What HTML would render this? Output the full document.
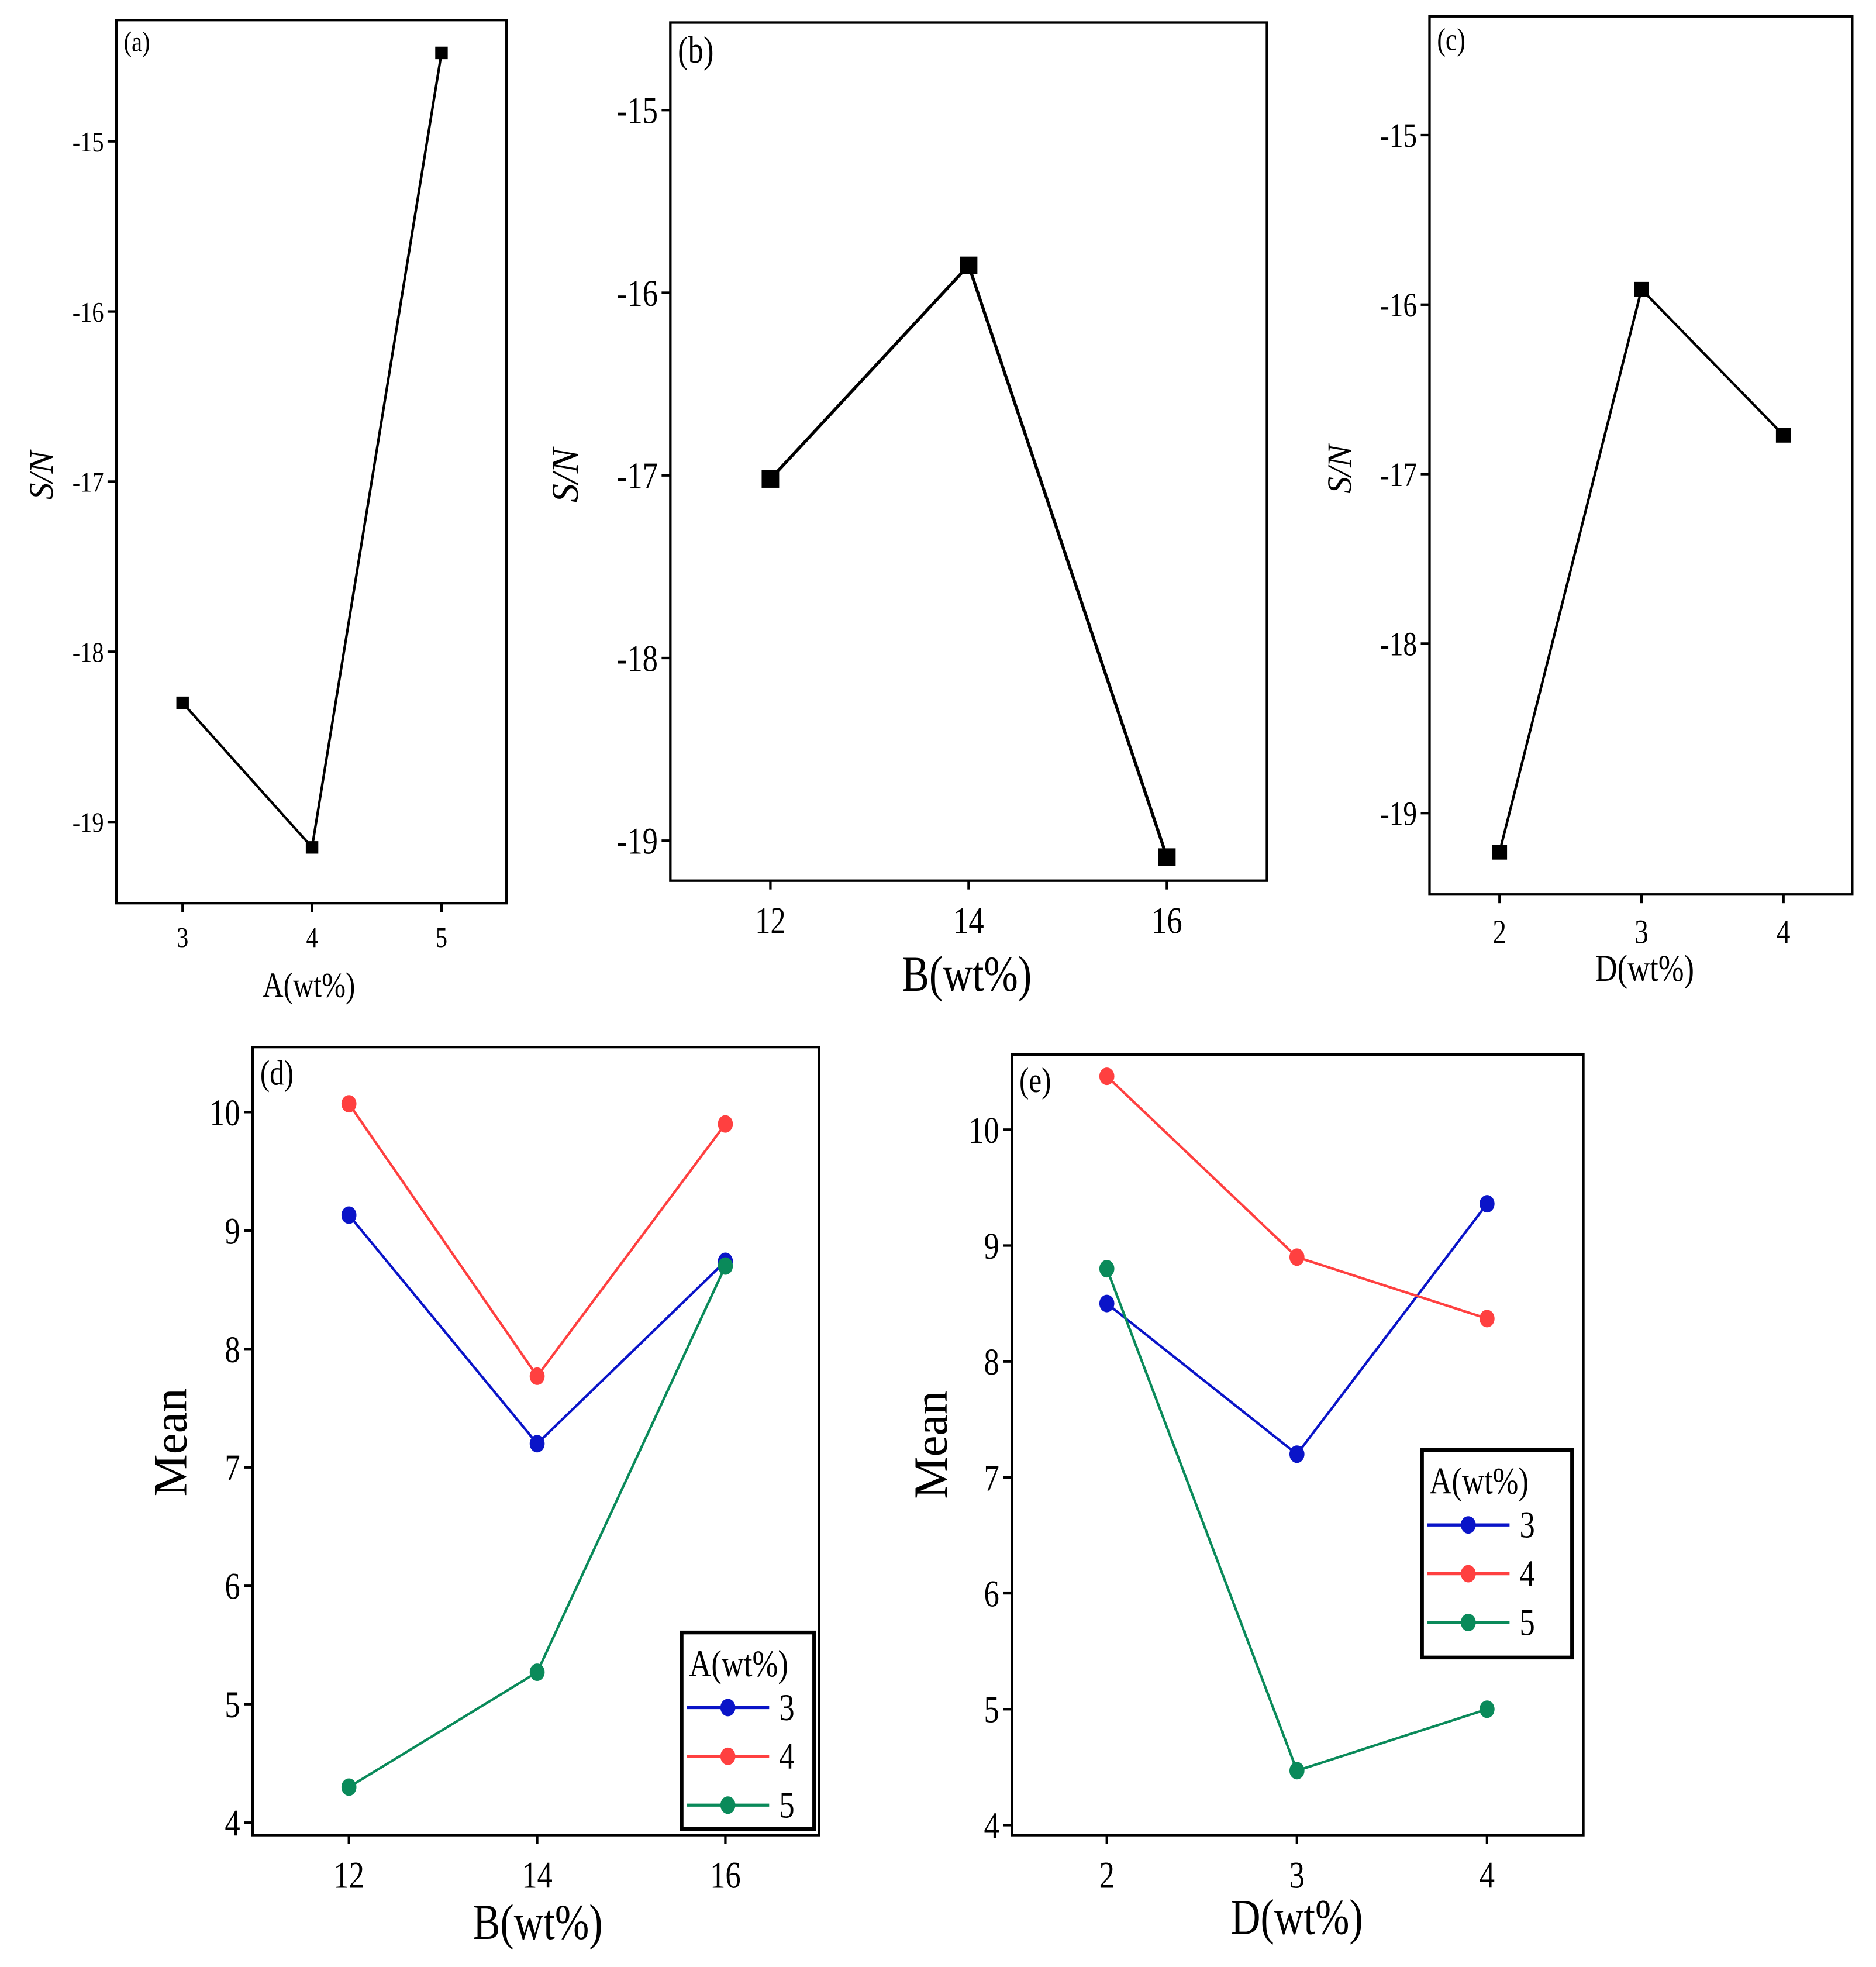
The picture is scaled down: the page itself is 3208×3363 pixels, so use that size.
<!DOCTYPE html>
<html><head><meta charset="utf-8"><style>
html,body{margin:0;padding:0;background:#fff}
svg{display:block}
text{font-family:"Liberation Serif",serif;fill:#000}
</style></head><body>
<svg id="fig" width="3208" height="3363" viewBox="0 0 1500 1572.4" preserveAspectRatio="none" xmlns="http://www.w3.org/2000/svg"></svg>
<script>
// Panel (a)
const aCats=[3,4,5];
const aVals=[-18.3,-19.15,-14.48];
const aYTicks=[-15,-16,-17,-18,-19];
// Panel (b)
const bCats=[12,14,16];
const bVals=[-17.02,-15.85,-19.09];
const bYTicks=[-15,-16,-17,-18,-19];
// Panel (c)
const cCats=[2,3,4];
const cVals=[-19.23,-15.91,-16.77];
const cYTicks=[-15,-16,-17,-18,-19];
// Panel (d)
const dCats=[12,14,16];
const dA3=[9.13,7.2,8.74];
const dA4=[10.07,7.77,9.9];
const dA5=[4.3,5.27,8.7];
const dYTicks=[4,5,6,7,8,9,10];
// Panel (e)
const eCats=[2,3,4];
const eA3=[8.5,7.2,9.36];
const eA4=[10.46,8.9,8.37];
const eA5=[8.8,4.47,5.0];
const eYTicks=[4,5,6,7,8,9,10];
const legendLabels=['3','4','5'];
const colors=['#0a14c8','#ff4040','#0a8a5a'];

const NS='http://www.w3.org/2000/svg';
const svg=document.getElementById('fig');
const SX=0.82;
function sq(x){return `translate(${x*(1-SX)},0) scale(${SX},1)`;}
function mk(tag,attrs,parent,text){
  const e=document.createElementNS(NS,tag);
  for(const k in attrs)e.setAttribute(k,attrs[k]);
  if(text!==undefined)e.textContent=text;
  (parent||svg).appendChild(e);return e;
}
function panel(cfg){
  const g=mk('g',{});
  
  
  const f=cfg.frame;
  const xs=v=>cfg.x0+(v-cfg.c0)*(cfg.x1-cfg.x0)/(cfg.c1-cfg.c0);
  const ys=v=>cfg.y0+(v-cfg.v0)*(cfg.y1-cfg.y0)/(cfg.v1-cfg.v0);
  const fr=mk('rect',{x:f[0],y:f[1],width:f[2]-f[0],height:f[3]-f[1],fill:'none',stroke:'#000','stroke-width':2},g);
  
  
  cfg.yticks.forEach(t=>{
    const y=ys(t);
    mk('line',{x1:f[0]-7,x2:f[0],y1:y,y2:y,stroke:'#000','stroke-width':2},g);
    const tx=mk('text',{x:f[0]-10,y:y+cfg.tf*0.35,'font-size':cfg.tf,'text-anchor':'end',transform:sq(f[0]-10)},g,String(t));
    
    
  });
  cfg.cats.forEach(c=>{
    const x=xs(c);
    mk('line',{x1:x,x2:x,y1:f[3],y2:f[3]+7,stroke:'#000','stroke-width':2},g);
    const tx=mk('text',{x:x,y:f[3]+cfg.tf+12,'font-size':cfg.tf,'text-anchor':'middle',transform:sq(x)},g,String(c));
    
    
  });
  const xl=mk('text',{x:cfg.xl[0],y:cfg.xl[1],'font-size':cfg.xf,'text-anchor':'middle',transform:sq(cfg.xl[0])},g,cfg.xlabel);
  
  
  const yl=mk('text',{x:0,y:0,'font-size':cfg.yf,'text-anchor':'middle','font-style':cfg.yital?'italic':'normal',transform:`translate(${cfg.yl[0]},${cfg.yl[1]}) rotate(-90)`},g,cfg.ylabel);
  
  
  const pl=mk('text',{x:f[0]+6,y:f[1]+cfg.pf+2,'font-size':cfg.pf,transform:sq(f[0]+6)},g,cfg.plabel);
  
  
  cfg.series.forEach((s,i)=>{
    const pts=cfg.cats.map((c,j)=>xs(c)+','+ys(s.vals[j])).join(' ');
    const ln=mk('polyline',{points:pts,fill:'none',stroke:s.color,'stroke-width':s.w},g);
    
    
    cfg.cats.forEach((c,j)=>{
      let m;
      if(s.marker==='sq'){
        m=mk('rect',{x:xs(c)-s.ms,y:ys(s.vals[j])-s.ms,width:2*s.ms,height:2*s.ms,fill:s.color},g);
      }else{
        m=mk('ellipse',{cx:xs(c),cy:ys(s.vals[j]),rx:6,ry:7,fill:s.color},g);
      }
      
      
    });
  });
  if(cfg.legend){
    const L=cfg.legend;
    const lg=mk('g',{},g);
    
    
    mk('rect',{x:L[0],y:L[1],width:L[2]-L[0],height:L[3]-L[1],fill:'#fff',stroke:'#000','stroke-width':3},lg);
    const lt=mk('text',{x:L[0]+6,y:L[1]+35,'font-size':30,transform:sq(L[0]+6)},lg,'A(wt%)');
    
    
    cfg.series.forEach((s,i)=>{
      const y=L[1]+60+i*39;
      const e=mk('g',{},lg);
      
      
      mk('line',{x1:L[0]+4,x2:L[0]+70,y1:y,y2:y,stroke:s.color,'stroke-width':2.5},e);
      mk('ellipse',{cx:L[0]+37,cy:y,rx:6,ry:7,fill:s.color},e);
      mk('text',{x:L[0]+78,y:y+10,'font-size':30,transform:sq(L[0]+78)},e,s.label);
    });
  }
}
const sn=(v,w,ms)=>[{vals:v,color:'#000',w:w,marker:'sq',ms:ms}];
panel({name:'panel-a',frame:[93,16,405,722],cats:aCats,c0:3,c1:5,x0:146,x1:353,yticks:aYTicks,v0:-15,v1:-19,y0:113,y1:657,
  tf:23,xf:28,yf:27,pf:23,xl:[247,797],xlabel:'A(wt%)',yl:[42,380],ylabel:'S/N',yital:true,plabel:'(a)',series:sn(aVals,2,5)});
panel({name:'panel-b',frame:[536,18,1013,704],cats:bCats,c0:12,c1:16,x0:616,x1:933,yticks:bYTicks,v0:-15,v1:-19,y0:88,y1:672,
  tf:30,xf:40,yf:30,pf:30,xl:[773,792],xlabel:'B(wt%)',yl:[462,380],ylabel:'S/N',yital:true,plabel:'(b)',series:sn(bVals,2.5,7)});
panel({name:'panel-c',frame:[1143,13,1481,715],cats:cCats,c0:2,c1:4,x0:1199,x1:1426,yticks:cYTicks,v0:-15,v1:-19,y0:108,y1:650,
  tf:27,xf:30,yf:27,pf:25,xl:[1315,784],xlabel:'D(wt%)',yl:[1080,375],ylabel:'S/N',yital:true,plabel:'(c)',series:sn(cVals,2,6)});
const ser=(a,b,c)=>[{vals:a,color:colors[0],w:2,label:'3'},{vals:b,color:colors[1],w:2,label:'4'},{vals:c,color:colors[2],w:2,label:'5'}];
panel({name:'panel-d',frame:[202,837,655,1467],cats:dCats,c0:12,c1:16,x0:279,x1:580,yticks:dYTicks,v0:10,v1:4,y0:889,y1:1457,
  tf:30,xf:40,yf:38,pf:28,xl:[430,1550],xlabel:'B(wt%)',yl:[149,1153],ylabel:'Mean',plabel:'(d)',series:ser(dA3,dA4,dA5),legend:[545,1305,651,1462]});
panel({name:'panel-e',frame:[809,843,1266,1467],cats:eCats,c0:2,c1:4,x0:885,x1:1189,yticks:eYTicks,v0:10,v1:4,y0:903,y1:1459,
  tf:30,xf:40,yf:38,pf:28,xl:[1037,1546],xlabel:'D(wt%)',yl:[757,1155],ylabel:'Mean',plabel:'(e)',series:ser(eA3,eA4,eA5),legend:[1137,1159,1257,1325]});
</script>
</body></html>
